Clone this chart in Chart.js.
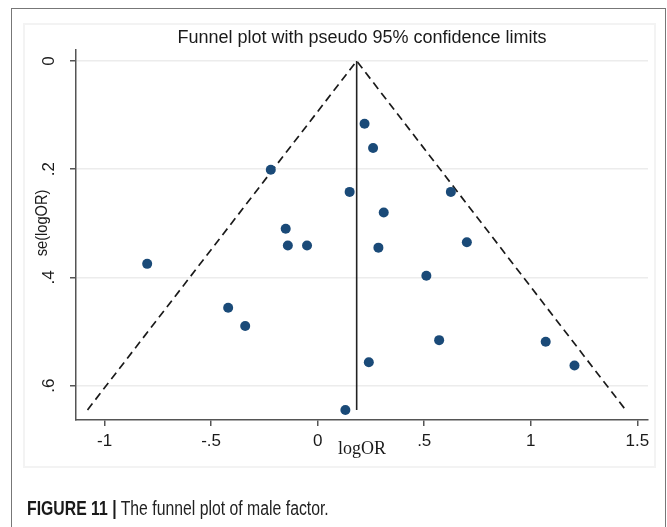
<!DOCTYPE html>
<html lang="en">
<head>
  <meta charset="UTF-8" />
  <title>Funnel plot of male factor</title>
  <script src="https://cdn.jsdelivr.net/npm/chart.js"></script>
  <style>
    body {
      margin: 0;
      background: #fff;
    }

    .figure {
      position: relative;
      width: 667px;
      height: 527px;
      overflow: hidden;
    }

    .frame {
      position: absolute;
      left: 11px;
      top: 8px;
      width: 655px;
      height: 540px;
      border: 1.5px solid #777;
      border-bottom: none;
      box-sizing: border-box;
    }

    .region {
      position: absolute;
      left: 23px;
      top: 23px;
      width: 633px;
      height: 445px;
      border: 2px solid #f3f3f3;
      box-sizing: border-box;
    }

    canvas {
      position: absolute;
      left: 0;
      top: 0;
    }

    .caption {
      position: absolute;
      left: 27px;
      top: 499px;
      font-family: 'Liberation Sans', Arial, sans-serif;
      font-size: 19.5px;
      line-height: 19px;
      color: #222;
      white-space: nowrap;
      transform: scaleX(0.81);
      transform-origin: left top;
    }

    .caption b {
      color: #1a1a1a;
    }
  </style>
</head>
<body>

  <div class="figure">
    <div class="frame"></div>
    <div class="region"></div>
    <canvas id="funnel" width="667" height="527"></canvas>
    <div class="caption"><b>FIGURE 11 |</b> The funnel plot of male factor.</div>
  </div>

  <script>
    // study estimates
    const logOR = [0.22, 0.26, -0.22, 0.15, 0.625, 0.31, -0.15, -0.14, -0.05, 0.285,
                   0.70, -0.80, 0.51, -0.42, -0.34, 0.57, 1.07, 1.205, 0.24, 0.13];
    const seLogOR = [0.116, 0.161, 0.201, 0.242, 0.242, 0.280, 0.310, 0.341, 0.341, 0.345,
                     0.335, 0.375, 0.397, 0.456, 0.490, 0.516, 0.519, 0.563, 0.557, 0.645];

    // pseudo 95% limits and pooled estimate
    const limitX = [-1.08, 0.183, 1.445];
    const limitSe = [0.645, 0, 0.645];
    const pooledX = [0.183, 0.183];
    const pooledSe = [0, 0.645];

    const xTicks = [-1, -0.5, 0, 0.5, 1, 1.5];
    const xTickLabels = ['-1', '-.5', '0', '.5', '1', '1.5'];
    const yTicks = [0, 0.2, 0.4, 0.6];
    const yTickLabels = ['0', '.2', '.4', '.6'];

    const toPoints = (xs, ys) => xs.map((x, i) => ({ x: x, y: ys[i] }));
    const labelFor = (vals, labels) => v => {
      const i = vals.findIndex(t => Math.abs(t - v) < 1e-9);
      return i < 0 ? '' : labels[i];
    };

    const sans = "'Liberation Sans', Arial, sans-serif";
    const axisColor = '#555';

    // axis titles sit close to the ticks like in Stata, so draw them by hand
    const axisTitles = {
      id: 'axisTitles',
      afterDraw(chart) {
        const { ctx, chartArea: a } = chart;
        ctx.save();
        ctx.fillStyle = '#1a1a1a';
        ctx.textAlign = 'center';
        ctx.textBaseline = 'alphabetic';
        ctx.font = "18px 'Liberation Serif', 'Times New Roman', serif";
        ctx.fillText('logOR', (a.left + a.right) / 2, a.bottom + 34);
        ctx.translate(a.left - 34, (a.top + a.bottom) / 2 - 12);
        ctx.rotate(-Math.PI / 2);
        ctx.scale(0.86, 1);
        ctx.textBaseline = 'middle';
        ctx.font = '17px ' + sans;
        ctx.fillText('se(logOR)', 0, 0);
        ctx.restore();
      }
    };

    const ctx = document.getElementById('funnel').getContext('2d');
    new Chart(ctx, {
      type: 'scatter',
      data: {
        datasets: [
          {
            type: 'line',
            data: toPoints(limitX, limitSe),
            borderColor: '#1a1a1a',
            borderWidth: 1.7,
            borderDash: [8, 5],
            pointRadius: 0,
            fill: false,
            order: 2
          },
          {
            type: 'line',
            data: toPoints(pooledX, pooledSe),
            borderColor: '#222',
            borderWidth: 1.6,
            pointRadius: 0,
            fill: false,
            order: 1
          },
          {
            data: toPoints(logOR, seLogOR),
            backgroundColor: '#1a4a78',
            borderColor: '#1a4a78',
            borderWidth: 0,
            pointRadius: 5,
            order: 0
          }
        ]
      },
      options: {
        responsive: false,
        animation: false,
        layout: {
          padding: { left: 12, right: 19, top: 0, bottom: 57 }
        },
        plugins: {
          legend: { display: false },
          tooltip: { enabled: false },
          title: {
            display: true,
            fullSize: false,
            text: 'Funnel plot with pseudo 95% confidence limits',
            color: '#1a1a1a',
            font: { family: sans, size: 18, weight: 'normal' },
            padding: { top: 27, bottom: 1.4 }
          }
        },
        scales: {
          x: {
            type: 'linear',
            min: -1.134,
            max: 1.55,
            afterBuildTicks: s => { s.ticks = xTicks.map(v => ({ value: v })); },
            afterFit: s => { s.height = 50; },
            ticks: {
              callback: labelFor(xTicks, xTickLabels),
              color: '#1a1a1a',
              font: { family: sans, size: 17 },
              padding: 5,
              maxRotation: 0
            },
            grid: {
              drawOnChartArea: false,
              color: axisColor,
              tickColor: axisColor,
              tickLength: 6,
              lineWidth: 1.5
            },
            border: { color: axisColor, width: 1.5 }
          },
          y: {
            type: 'linear',
            reverse: true,
            min: -0.0203,
            max: 0.6636,
            afterBuildTicks: s => { s.ticks = yTicks.map(v => ({ value: v })); },
            afterFit: s => { s.width = 64; },
            ticks: {
              callback: labelFor(yTicks, yTickLabels),
              color: '#1a1a1a',
              font: { family: sans, size: 17 },
              minRotation: 90,
              maxRotation: 90,
              crossAlign: 'center',
              padding: 14
            },
            grid: {
              color: '#ececec',
              tickColor: axisColor,
              tickLength: 6,
              lineWidth: 1.5
            },
            border: { color: axisColor, width: 1.5 }
          }
        }
      },
      plugins: [axisTitles]
    });
  </script>

</body>
</html>
